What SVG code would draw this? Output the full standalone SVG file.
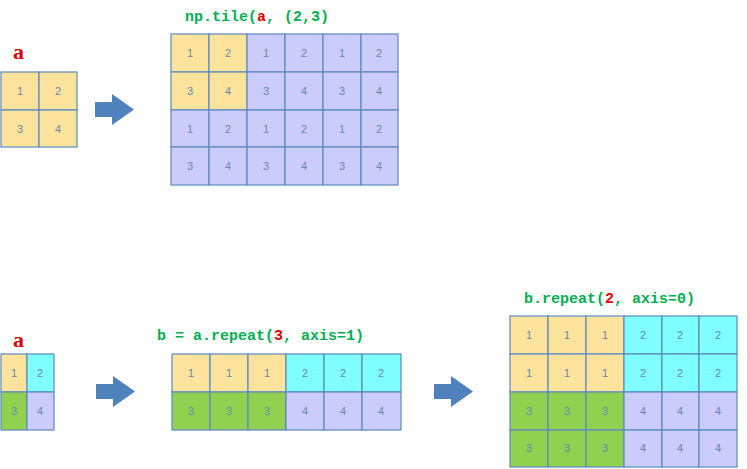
<svg xmlns="http://www.w3.org/2000/svg" width="747" height="469" viewBox="0 0 747 469">
<defs><style>
rect{stroke:#5b8ac0;stroke-width:1.2}
.y{fill:#fde39c}.l{fill:#ccccfb}.c{fill:#7fffff}.g{fill:#92d050}
.n{font-family:"Liberation Sans",sans-serif;font-size:11px;fill:#6a86b0;text-anchor:middle}
.code{font-family:"Liberation Mono",monospace;font-weight:bold;font-size:15px;fill:#00b050}
.r{fill:#e00000}
.a{font-family:"Liberation Serif",serif;font-weight:bold;font-size:22px;fill:#e00000}
.arr{fill:#4f81bd}
</style></defs>
<rect x="0" y="0" width="747" height="469" style="fill:#fff;stroke:none"/>
<g id="label-a1"><text class="a" x="13" y="59">a</text></g>
<g id="grid-a1">
<rect class="y" x="1" y="72" width="38" height="38"/><rect class="y" x="39" y="72" width="38" height="38"/>
<rect class="y" x="1" y="110" width="38" height="37"/><rect class="y" x="39" y="110" width="38" height="37"/>
<text class="n" x="20" y="95">1</text><text class="n" x="58" y="95">2</text><text class="n" x="20" y="133">3</text><text class="n" x="58" y="133">4</text>
</g>
<g id="connectors">
<path class="arr" d="M95,102 H112 V94 L134,109.5 L112,125 V117 H95 Z"/>
<path class="arr" d="M96,384 H113 V376 L135,391.5 L113,407 V399 H96 Z"/>
<path class="arr" d="M434,384 H451 V376 L473,391.5 L451,407 V399 H434 Z"/>
</g>
<g id="title-tile"><text class="code" x="185" y="21">np.tile(<tspan class="r">a</tspan>, (2,3)</text></g>
<g id="grid-tile">
<rect class="y" x="171" y="34" width="38" height="38"/><rect class="y" x="209" y="34" width="38" height="38"/>
<rect class="l" x="247" y="34" width="38" height="38"/><rect class="l" x="285" y="34" width="38" height="38"/>
<rect class="l" x="323" y="34" width="38" height="38"/><rect class="l" x="361" y="34" width="37" height="38"/>
<rect class="y" x="171" y="72" width="38" height="38"/><rect class="y" x="209" y="72" width="38" height="38"/>
<rect class="l" x="247" y="72" width="38" height="38"/><rect class="l" x="285" y="72" width="38" height="38"/>
<rect class="l" x="323" y="72" width="38" height="38"/><rect class="l" x="361" y="72" width="37" height="38"/>
<rect class="l" x="171" y="110" width="38" height="37"/><rect class="l" x="209" y="110" width="38" height="37"/>
<rect class="l" x="247" y="110" width="38" height="37"/><rect class="l" x="285" y="110" width="38" height="37"/>
<rect class="l" x="323" y="110" width="38" height="37"/><rect class="l" x="361" y="110" width="37" height="37"/>
<rect class="l" x="171" y="147" width="38" height="38"/><rect class="l" x="209" y="147" width="38" height="38"/>
<rect class="l" x="247" y="147" width="38" height="38"/><rect class="l" x="285" y="147" width="38" height="38"/>
<rect class="l" x="323" y="147" width="38" height="38"/><rect class="l" x="361" y="147" width="37" height="38"/>
<text class="n" x="190" y="57">1</text><text class="n" x="228" y="57">2</text><text class="n" x="266" y="57">1</text><text class="n" x="304" y="57">2</text><text class="n" x="342" y="57">1</text><text class="n" x="379" y="57">2</text>
<text class="n" x="190" y="95">3</text><text class="n" x="228" y="95">4</text><text class="n" x="266" y="95">3</text><text class="n" x="304" y="95">4</text><text class="n" x="342" y="95">3</text><text class="n" x="379" y="95">4</text>
<text class="n" x="190" y="133">1</text><text class="n" x="228" y="133">2</text><text class="n" x="266" y="133">1</text><text class="n" x="304" y="133">2</text><text class="n" x="342" y="133">1</text><text class="n" x="379" y="133">2</text>
<text class="n" x="190" y="170">3</text><text class="n" x="228" y="170">4</text><text class="n" x="266" y="170">3</text><text class="n" x="304" y="170">4</text><text class="n" x="342" y="170">3</text><text class="n" x="379" y="170">4</text>
</g>
<g id="label-a2"><text class="a" x="13" y="347">a</text></g>
<g id="grid-a2">
<rect class="y" x="1" y="354" width="26" height="38"/><rect class="c" x="27" y="354" width="27" height="38"/>
<rect class="g" x="1" y="392" width="26" height="38"/><rect class="l" x="27" y="392" width="27" height="38"/>
<text class="n" x="14" y="377">1</text><text class="n" x="40" y="377">2</text><text class="n" x="14" y="415">3</text><text class="n" x="40" y="415">4</text>
</g>
<g id="title-b"><text class="code" x="157" y="340">b = a.repeat(<tspan class="r">3</tspan>, axis=1)</text></g>
<g id="grid-b">
<rect class="y" x="172" y="354" width="38" height="38"/><rect class="y" x="210" y="354" width="38" height="38"/><rect class="y" x="248" y="354" width="38" height="38"/>
<rect class="c" x="286" y="354" width="38" height="38"/><rect class="c" x="324" y="354" width="38" height="38"/><rect class="c" x="362" y="354" width="39" height="38"/>
<rect class="g" x="172" y="392" width="38" height="38"/><rect class="g" x="210" y="392" width="38" height="38"/><rect class="g" x="248" y="392" width="38" height="38"/>
<rect class="l" x="286" y="392" width="38" height="38"/><rect class="l" x="324" y="392" width="38" height="38"/><rect class="l" x="362" y="392" width="39" height="38"/>
<text class="n" x="191" y="377">1</text><text class="n" x="229" y="377">1</text><text class="n" x="267" y="377">1</text><text class="n" x="305" y="377">2</text><text class="n" x="343" y="377">2</text><text class="n" x="381" y="377">2</text>
<text class="n" x="191" y="415">3</text><text class="n" x="229" y="415">3</text><text class="n" x="267" y="415">3</text><text class="n" x="305" y="415">4</text><text class="n" x="343" y="415">4</text><text class="n" x="381" y="415">4</text>
</g>
<g id="title-c"><text class="code" x="524" y="303">b.repeat(<tspan class="r">2</tspan>, axis=0)</text></g>
<g id="grid-c">
<rect class="y" x="510" y="316" width="38" height="38"/><rect class="y" x="548" y="316" width="38" height="38"/><rect class="y" x="586" y="316" width="38" height="38"/>
<rect class="c" x="624" y="316" width="38" height="38"/><rect class="c" x="662" y="316" width="37" height="38"/><rect class="c" x="699" y="316" width="38" height="38"/>
<rect class="y" x="510" y="354" width="38" height="38"/><rect class="y" x="548" y="354" width="38" height="38"/><rect class="y" x="586" y="354" width="38" height="38"/>
<rect class="c" x="624" y="354" width="38" height="38"/><rect class="c" x="662" y="354" width="37" height="38"/><rect class="c" x="699" y="354" width="38" height="38"/>
<rect class="g" x="510" y="392" width="38" height="38"/><rect class="g" x="548" y="392" width="38" height="38"/><rect class="g" x="586" y="392" width="38" height="38"/>
<rect class="l" x="624" y="392" width="38" height="38"/><rect class="l" x="662" y="392" width="37" height="38"/><rect class="l" x="699" y="392" width="38" height="38"/>
<rect class="g" x="510" y="430" width="38" height="37"/><rect class="g" x="548" y="430" width="38" height="37"/><rect class="g" x="586" y="430" width="38" height="37"/>
<rect class="l" x="624" y="430" width="38" height="37"/><rect class="l" x="662" y="430" width="37" height="37"/><rect class="l" x="699" y="430" width="38" height="37"/>
<text class="n" x="529" y="339">1</text><text class="n" x="567" y="339">1</text><text class="n" x="605" y="339">1</text><text class="n" x="643" y="339">2</text><text class="n" x="680" y="339">2</text><text class="n" x="718" y="339">2</text>
<text class="n" x="529" y="377">1</text><text class="n" x="567" y="377">1</text><text class="n" x="605" y="377">1</text><text class="n" x="643" y="377">2</text><text class="n" x="680" y="377">2</text><text class="n" x="718" y="377">2</text>
<text class="n" x="529" y="415">3</text><text class="n" x="567" y="415">3</text><text class="n" x="605" y="415">3</text><text class="n" x="643" y="415">4</text><text class="n" x="680" y="415">4</text><text class="n" x="718" y="415">4</text>
<text class="n" x="529" y="452">3</text><text class="n" x="567" y="452">3</text><text class="n" x="605" y="452">3</text><text class="n" x="643" y="452">4</text><text class="n" x="680" y="452">4</text><text class="n" x="718" y="452">4</text>
</g>
</svg>
